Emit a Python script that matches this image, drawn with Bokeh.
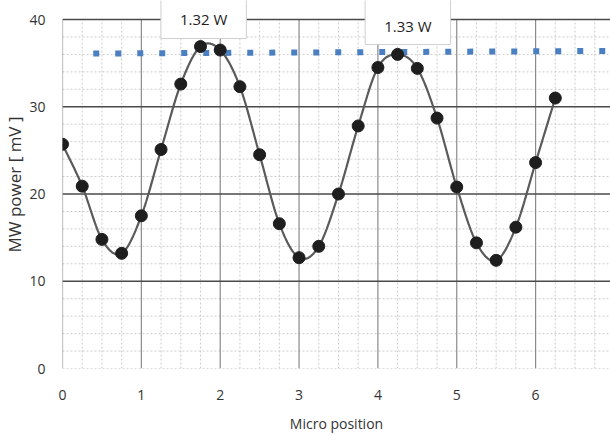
import numpy as np
from bokeh.plotting import figure
from bokeh.models import Label, FixedTicker, Range1d
from bokeh.embed import file_html
from bokeh.resources import INLINE

# ---- data ----
positions = [0, 0.25, 0.5, 0.75, 1, 1.25, 1.5, 1.75, 2, 2.25, 2.5, 2.75, 3,
             3.25, 3.5, 3.75, 4, 4.25, 4.5, 4.75, 5, 5.25, 5.5, 5.75, 6, 6.25]
power_mv = [25.7, 20.9, 14.8, 13.2, 17.5, 25.1, 32.6, 36.9, 36.5, 32.3, 24.5, 16.6, 12.7,
            14.0, 20.0, 27.8, 34.5, 36.0, 34.4, 28.7, 20.8, 14.4, 12.4, 16.2, 23.6, 31.0]
ref_x = [0.39, 6.95]
ref_y = [36.1, 36.4]
ann_text = ["1.32 W", "1.33 W"]
ann_x = [1.79, 4.38]
ann_y = [40.11, 39.71]
ann_pad_top = [10, 16]
ann_pad_bottom = [10, 9]
x_ticks = [0, 1, 2, 3, 4, 5, 6, 7]
y_ticks = [0, 10, 20, 30, 40]
x_minor = [i * 0.25 for i in range(0, 29)]
y_minor = list(range(0, 41, 2))

FONT = "Open Sans"
X_END = 6.95
Y_TOP = 40
Y_END = 42.18

# smooth curve through the points (Catmull-Rom)
def catmull(xs, ys, n=20):
    xs = np.asarray(xs, float); ys = np.asarray(ys, float)
    P = np.column_stack([xs, ys])
    P = np.vstack([2 * P[0] - P[1], P, 2 * P[-1] - P[-2]])
    out = []
    t = np.linspace(0, 1, n, endpoint=False)[:, None]
    for i in range(1, len(P) - 2):
        p0, p1, p2, p3 = P[i - 1], P[i], P[i + 1], P[i + 2]
        seg = 0.5 * ((2 * p1) + (-p0 + p2) * t + (2 * p0 - 5 * p1 + 4 * p2 - p3) * t ** 2
                     + (-p0 + 3 * p1 - 3 * p2 + p3) * t ** 3)
        out.append(seg)
    out.append(P[-2][None, :])
    out = np.vstack(out)
    return out[:, 0], out[:, 1]

cx, cy = catmull(positions, power_mv)

p = figure(width=610, height=435, output_backend="svg", toolbar_location=None,
           x_range=Range1d(0, X_END), y_range=Range1d(0, Y_END),
           min_border_left=62, min_border_right=0, min_border_top=0, min_border_bottom=67)
p.outline_line_color = None
p.background_fill_color = "white"
p.xgrid.visible = False
p.ygrid.visible = False

p.xaxis.ticker = FixedTicker(ticks=x_ticks)
p.yaxis.ticker = FixedTicker(ticks=y_ticks)

# grid lines drawn from the tick lists, limited to 0..40
xm = [v for v in x_minor if v not in x_ticks]
ym = [v for v in y_minor if v not in y_ticks]
p.segment(xm, [0] * len(xm), xm, [Y_TOP] * len(xm), line_color="#cccccc", line_width=1, line_dash="2 2")
p.segment([0] * len(ym), ym, [X_END + 1] * len(ym), ym, line_color="#cccccc", line_width=1, line_dash="2 2")
p.segment(x_ticks, [0] * len(x_ticks), x_ticks, [Y_TOP] * len(x_ticks), line_color="#8a8a8a", line_width=1.2)
yt_major = [v for v in y_ticks if v > 0]
p.segment([0] * len(yt_major), yt_major, [X_END + 1] * len(yt_major), yt_major, line_color="#4a4a4a", line_width=1.5)
p.segment([0], [0], [X_END + 1], [0], line_color="#bbbbbb", line_width=1, line_dash="2 2")

for ax in (p.xaxis[0], p.yaxis[0]):
    ax.axis_line_color = None
    ax.major_tick_line_color = None
    ax.minor_tick_line_color = None
    ax.major_label_text_font = FONT
    ax.major_label_text_font_size = "14px"
    ax.major_label_text_color = "#333333"
    ax.axis_label_text_font = FONT
    ax.axis_label_text_font_style = "normal"
    ax.axis_label_text_color = "#333333"

p.xaxis.axis_label = "Micro position"
p.yaxis.axis_label = "MW power [ mV ]"
p.xaxis.axis_label_text_font_size = "14px"
p.yaxis.axis_label_text_font_size = "17px"
p.xaxis.major_label_standoff = 15
p.yaxis.major_label_standoff = 11
p.xaxis.axis_label_standoff = 11
p.yaxis.axis_label_standoff = 0

# reference dotted line
p.line(ref_x, ref_y, line_color="#4a7fc1", line_width=6, line_dash="6 16")

# smooth curve and points
p.line(cx, cy, line_color="#5a5a5a", line_width=2.2)
p.scatter(positions, power_mv, size=12, fill_color="#1e1e1e", line_color="#1e1e1e")

for t, x, y, pt, pb in zip(ann_text, ann_x, ann_y, ann_pad_top, ann_pad_bottom):
    p.add_layout(Label(x=x, y=y, text=t, text_align="center", text_baseline="middle",
                       text_font=FONT, text_font_size="15px", text_color="#222222",
                       background_fill_color="white", border_line_color="#cfcfcf",
                       border_line_width=1,
                       padding=dict(left=19, right=19, top=pt, bottom=pb)))

open("out.html", "w").write(file_html(p, INLINE))
